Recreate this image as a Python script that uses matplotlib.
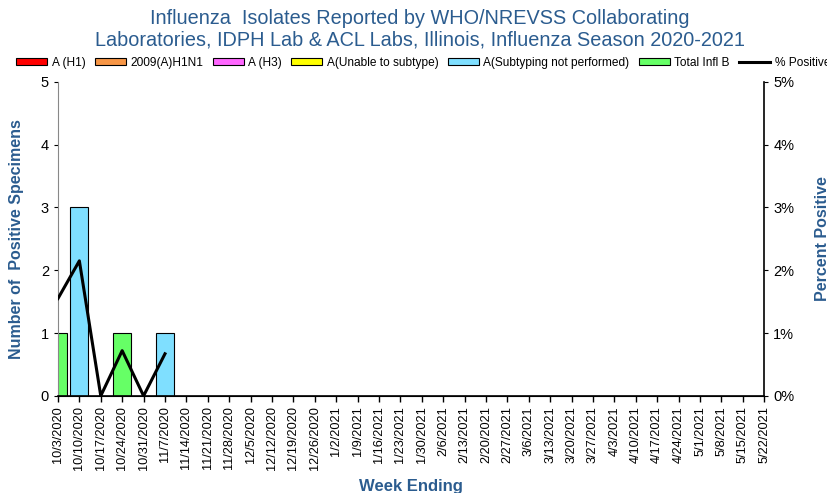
import numpy as np
import matplotlib.pyplot as plt
from matplotlib.patches import Patch
from matplotlib.lines import Line2D

plt.rcParams['font.family'] = ['Liberation Sans', 'DejaVu Sans']

# Data
weeks = ["10/3/2020", "10/10/2020", "10/17/2020", "10/24/2020", "10/31/2020", "11/7/2020",
         "11/14/2020", "11/21/2020", "11/28/2020", "12/5/2020", "12/12/2020", "12/19/2020",
         "12/26/2020", "1/2/2021", "1/9/2021", "1/16/2021", "1/23/2021", "1/30/2021",
         "2/6/2021", "2/13/2021", "2/20/2021", "2/27/2021", "3/6/2021", "3/13/2021",
         "3/20/2021", "3/27/2021", "4/3/2021", "4/10/2021", "4/17/2021", "4/24/2021",
         "5/1/2021", "5/8/2021", "5/15/2021", "5/22/2021"]
n = len(weeks)
a_h1 = [0] * n
a_h1n1 = [0] * n
a_h3 = [0] * n
a_unable = [0] * n
a_not_performed = [0, 3, 0, 0, 0, 1] + [0] * (n - 6)
infl_b = [1, 0, 0, 1, 0, 0] + [0] * (n - 6)
pct_positive = [1.55, 2.15, 0.0, 0.72, 0.0, 0.67]

series = [
    ("A (H1)", a_h1, "#FF0000"),
    ("2009(A)H1N1", a_h1n1, "#F79646"),
    ("A (H3)", a_h3, "#FF66FF"),
    ("A(Unable to subtype)", a_unable, "#FFFF00"),
    ("A(Subtyping not performed)", a_not_performed, "#7FDFFF"),
    ("Total Infl B", infl_b, "#66FF66"),
]

navy = "#2B5C8F"
fig = plt.figure(figsize=(8.28, 4.93), dpi=100)
ax = fig.add_axes([0.070, 0.197, 0.853, 0.637])

x = np.arange(n)
bottom = np.zeros(n)
handles = []
for label, vals, col in series:
    vals = np.array(vals, dtype=float)
    # empty weeks get no bar
    m = vals > 0
    if m.any():
        ax.bar(x[m], vals[m], width=0.85, bottom=bottom[m], color=col, edgecolor="black", linewidth=0.8)
    bottom += vals
    handles.append(Patch(facecolor=col, edgecolor="black", linewidth=0.8, label=label))

ax.set_xlim(0, n - 1)
ax.set_ylim(0, 5)
ax.set_yticks(range(6))
ax.set_xticks(x)
ax.set_xticklabels(weeks, rotation=90, fontsize=9.2)
ax.tick_params(axis="y", labelsize=10.5, length=3)
ax.tick_params(axis="x", length=4, width=1)
for s in ["top", "right"]:
    ax.spines[s].set_visible(False)
ax.spines["left"].set_color("#888888")
ax.spines["bottom"].set_linewidth(1.2)
ax.set_ylabel("Number of  Positive Specimens", color=navy, fontsize=11.5, fontweight="bold", labelpad=12)
ax.set_xlabel("Week Ending", color=navy, fontsize=12, fontweight="bold", labelpad=6)

ax2 = ax.twinx()
ax2.plot(x[:len(pct_positive)], pct_positive, color="black", linewidth=2.2)
ax2.set_ylim(0, 5)
ax2.set_yticks(range(6))
ax2.set_yticklabels([f"{i}%" for i in range(6)], fontsize=10.5)
ax2.set_xlim(0, n - 1)
ax2.spines["top"].set_visible(False)
ax2.spines["left"].set_visible(False)
ax2.spines["right"].set_linewidth(1.2)
ax2.set_ylabel("Percent Positive", color=navy, fontsize=11.5, fontweight="bold", rotation=90, labelpad=15)
ax2.tick_params(axis="y", length=3)

handles.append(Line2D([0], [0], color="black", linewidth=2.2, label="% Positive"))
fig.legend(handles=handles, loc="center left", bbox_to_anchor=(0.014, 0.873), ncol=7, frameon=False,
           fontsize=8.6, handlelength=2.6, handleheight=0.6, columnspacing=0.75, handletextpad=0.4,
           borderaxespad=0)

fig.text(0.507, 0.962, "Influenza  Isolates Reported by WHO/NREVSS Collaborating", ha="center",
         va="center", fontsize=14.3, color=navy)
fig.text(0.507, 0.918, "Laboratories, IDPH Lab & ACL Labs, Illinois, Influenza Season 2020-2021",
         ha="center", va="center", fontsize=14.3, color=navy)

fig.savefig("out.png", dpi=100)
